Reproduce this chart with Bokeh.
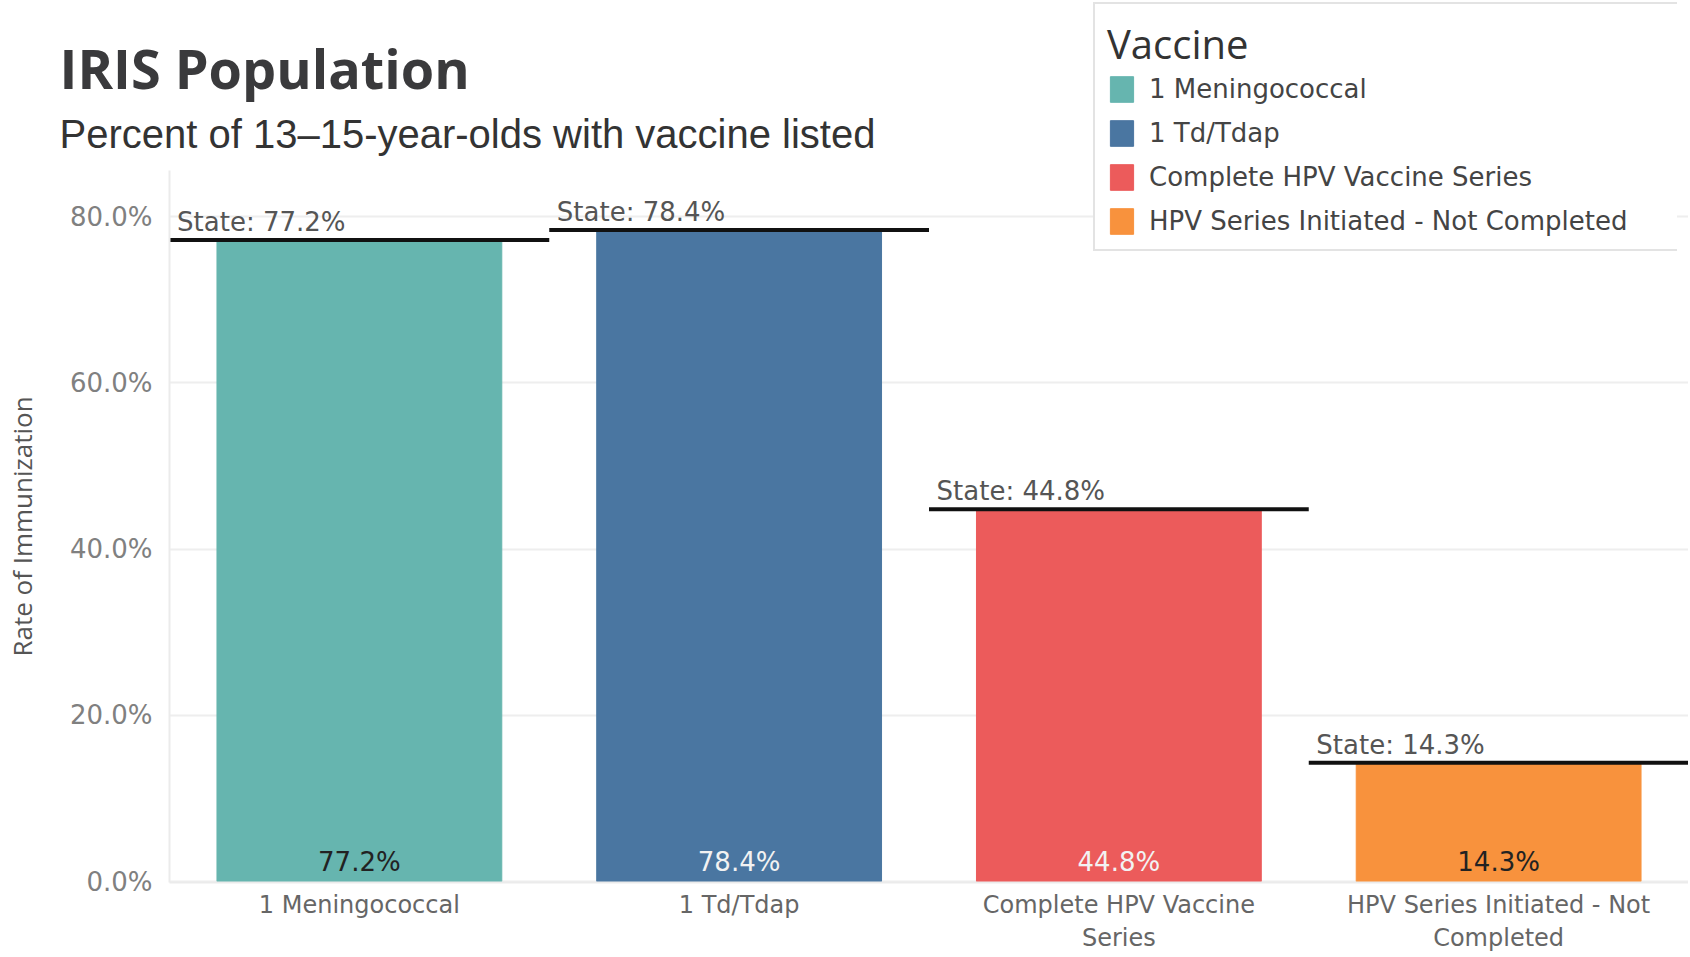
from bokeh.plotting import figure
from bokeh.layouts import column
from bokeh.models import (ColumnDataSource, FixedTicker, PrintfTickFormatter,
                          CustomJSTickFormatter, Title)
from bokeh.transform import dodge
from bokeh.core.properties import value
from bokeh.embed import file_html
from bokeh.resources import INLINE

# ---- data ----
categories = ["1 Meningococcal", "1 Td/Tdap", "Complete HPV Vaccine Series",
              "HPV Series Initiated - Not Completed"]
tick_labels = ["1 Meningococcal", "1 Td/Tdap", "Complete HPV Vaccine\nSeries",
               "HPV Series Initiated - Not\nCompleted"]
iris_rate = [77.2, 78.4, 44.8, 14.3]
state_rate = [77.2, 78.4, 44.8, 14.3]
y_ticks = [0, 20, 40, 60, 80]

# ---- styles ----
bar_colors = ["#66b5af", "#4a76a1", "#ec5b5b", "#f8923d"]
inside_text_colors = ["#222222", "#f2f2f2", "#f2f2f2", "#222222"]

W, H = 1688, 956
FL, FT, FB = 165, 170, 882   # frame left / top / bottom (px)
PX = 8.31                    # pixels per percentage point
Y0 = 881                     # pixel row of 0 %
y_end = (Y0 - FT) / PX
y_start = -(FB - Y0) / PX

src = ColumnDataSource(dict(
    cat=categories, iris=iris_rate, state=state_rate, color=bar_colors,
    tcol=inside_text_colors,
    bar_text=[f"{v:.1f}%" for v in iris_rate],
    state_text=[f"State: {v:.1f}%" for v in state_rate],
))

p = figure(x_range=categories, y_range=(y_start, y_end), width=W, height=H,
           output_backend="svg", toolbar_location=None,
           min_border_left=FL, min_border_right=0, min_border_top=FT,
           min_border_bottom=H - FB)
p.outline_line_color = None
p.background_fill_color = "white"
p.xgrid.grid_line_color = None
p.ygrid.grid_line_color = "#eeeeee"
p.ygrid.grid_line_width = 2

p.vbar(x="cat", top="iris", bottom=0, width=0.75, fill_color="color",
       line_color="color", source=src)

# state reference lines spanning each category
p.rect(x="cat", y="state", width=1.0, height=4, height_units="screen",
       fill_color="#111111", line_color=None, source=src)

p.text(x=dodge("cat", -0.48, range=p.x_range), y="state", text="state_text",
       text_align="left", text_baseline="alphabetic", y_offset=-18,
       text_font=value("DejaVu Sans"), text_font_size="26px",
       text_color="#555555", source=src)

p.text(x="cat", y=0, text="bar_text", text_align="center",
       text_baseline="alphabetic", y_offset=-20,
       text_font=value("DejaVu Sans"), text_font_size="26px",
       text_color="tcol", source=src)

# ---- axes ----
ya = p.yaxis[0]
ya.ticker = FixedTicker(ticks=y_ticks)
ya.formatter = PrintfTickFormatter(format="%.1f%%")
ya.axis_line_color = "#ebebeb"
ya.axis_line_width = 2
ya.major_tick_line_color = None
ya.minor_tick_line_color = None
ya.major_tick_out = 0
ya.major_tick_in = 0
ya.major_label_standoff = 17
ya.major_label_text_font = "DejaVu Sans"
ya.major_label_text_font_size = "26px"
ya.major_label_text_color = "#808080"
ya.axis_label = "Rate of Immunization"
ya.axis_label_text_font = "Open Sans"
ya.axis_label_text_font_size = "26px"
ya.axis_label_text_font_style = "normal"
ya.axis_label_text_color = "#555555"
ya.axis_label_standoff = 27

xa = p.xaxis[0]
xa.formatter = CustomJSTickFormatter(
    args=dict(cats=categories, labs=tick_labels),
    code="const i = cats.indexOf(tick); return i >= 0 ? labs[i] : tick;")
xa.axis_line_color = "#ebebeb"
xa.axis_line_width = 2
xa.major_tick_line_color = None
xa.major_tick_out = 0
xa.major_tick_in = 0
xa.major_label_standoff = 8
xa.major_label_text_font = "DejaVu Sans"
xa.major_label_text_font_size = "24px"
xa.major_label_text_color = "#666666"

# ---- titles (first added sits nearest the plot) ----
p.add_layout(Title(text="Percent of 13\u201315-year-olds with vaccine listed",
                   align="left", offset=55 - FL, standoff=29,
                   text_font="Liberation Sans", text_font_size="40px",
                   text_font_style="normal", text_color="#333333",
                   vertical_align="bottom"), "above")
p.add_layout(Title(text="IRIS Population", align="left", offset=55 - FL,
                   standoff=-18, text_font="Open Sans",
                   text_font_style="bold", text_font_size="54px",
                   text_color="#3a3a3c", vertical_align="bottom"), "above")

# ---- legend: a small transparent figure laid over the top-right corner ----
# (its frame is aligned with the main frame's left border inside the column)
LX, LY, LBOX = 1092, 2, 583
ALIGN = 168
pl = figure(x_range=categories, y_range=(1000, 1001), width=ALIGN + LBOX + 2,
            height=258, output_backend="svg", toolbar_location=None,
            min_border=0, x_axis_location=None, y_axis_location=None)
pl.grid.visible = False
pl.outline_line_color = None
pl.background_fill_alpha = 0
pl.border_fill_alpha = 0
pl.vbar(x="cat", top="iris", bottom=0, width=0.75, fill_color="color",
        line_color="color", source=src, legend_field="cat")

leg = pl.legend[0]
leg.title = "Vaccine"
leg.location = "top_left"
leg.margin = 0
leg.padding = 12
leg.title_text_font = "Open Sans"
leg.title_text_font_size = "40px"
leg.title_text_font_style = "normal"
leg.title_text_color = "#333333"
leg.title_text_line_height = 0.9
leg.title_standoff = 2
leg.label_text_font = "DejaVu Sans"
leg.label_text_font_size = "26px"
leg.label_text_color = "#444444"
leg.glyph_height = 32
leg.glyph_width = 29
leg.label_height = 32
leg.label_width = LBOX - 12 - 29 - 13 - 12
leg.label_standoff = 13
leg.spacing = 12
leg.border_line_color = "#c8c8c8"
leg.border_line_width = 2
leg.background_fill_color = "white"
leg.background_fill_alpha = 1.0

pl.margin = (LY - H, 0, 0, LX - ALIGN)

layout = column(p, pl, spacing=0)
open("out.html", "w").write(file_html(layout, INLINE))
